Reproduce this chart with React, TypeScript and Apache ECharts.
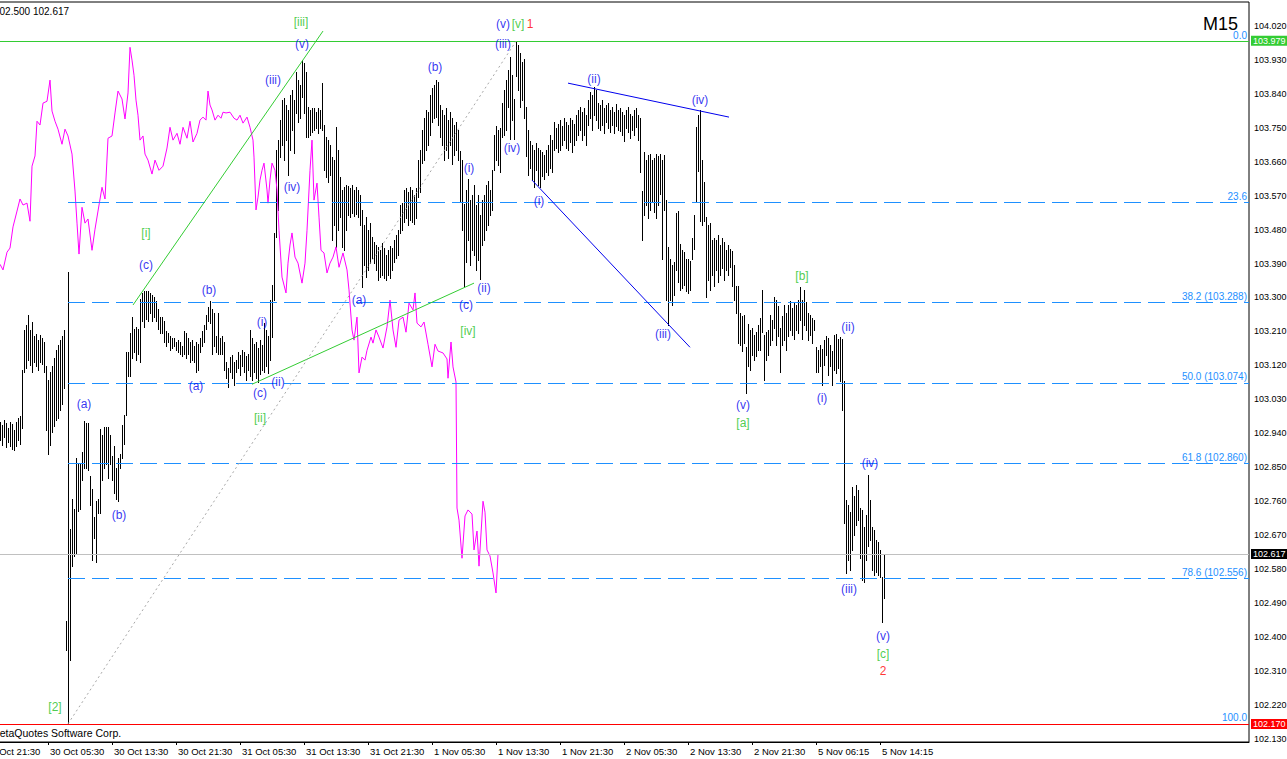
import React, { useEffect, useRef } from "react";
import * as echarts from "echarts";

const FONT = '"Liberation Sans", Arial, sans-serif';

// time index of the first visible M15 bar (index 0 = 29 Oct 21:30)
const firstBar = 8;

const barHigh = [
  102.970, 102.962, 102.975, 102.967, 102.954, 102.970, 102.964, 102.948, 102.970, 102.980, 102.986, 103.108,
  103.213, 103.227, 103.253, 103.213, 103.234, 103.197, 103.203, 103.187, 103.200, 103.192, 103.181, 103.118,
  103.081, 103.102, 103.118, 103.139, 103.160, 103.174, 103.187, 103.197, 103.213, 102.443, 103.367, 102.686,
  102.766, 102.739, 102.874, 102.858, 102.858, 102.890, 102.972, 102.967, 102.967, 102.827, 102.792, 102.718,
  102.760, 102.766, 102.951, 102.935, 102.956, 102.956, 102.956, 102.935, 102.879, 102.906, 102.848, 102.874,
  102.885, 102.962, 102.988, 103.155, 103.155, 103.205, 103.248, 103.216, 103.221, 103.216, 103.296, 103.312,
  103.317, 103.317, 103.317, 103.312, 103.306, 103.301, 103.290, 103.269, 103.248, 103.248, 103.237, 103.211,
  103.205, 103.198, 103.192, 103.192, 103.182, 103.187, 103.182, 103.171, 103.211, 103.205, 103.192, 103.182,
  103.187, 103.171, 103.182, 103.176, 103.192, 103.211, 103.227, 103.253, 103.275, 103.290, 103.269, 103.259,
  103.198, 103.259, 103.192, 103.198, 103.182, 103.128, 103.113, 103.142, 103.147, 103.128, 103.134, 103.155,
  103.147, 103.160, 103.155, 103.145, 103.150, 103.213, 103.192, 103.176, 103.182, 103.166, 103.187, 103.174,
  103.232, 103.213, 103.198, 103.293, 103.333, 103.471, 103.691, 103.717, 103.770, 103.823, 103.828, 103.810,
  103.797, 103.836, 103.850, 103.823, 103.897, 103.876, 103.863, 103.929, 103.921, 103.897, 103.804, 103.797,
  103.802, 103.802, 103.791, 103.802, 103.797, 103.868, 103.757, 103.725, 103.717, 103.704, 103.672, 103.664,
  103.751, 103.691, 103.619, 103.585, 103.592, 103.598, 103.595, 103.590, 103.598, 103.585, 103.592, 103.585,
  103.571, 103.532, 103.492, 103.513, 103.479, 103.497, 103.460, 103.447, 103.439, 103.433, 103.425, 103.444,
  103.431, 103.412, 103.425, 103.436, 103.431, 103.452, 103.465, 103.479, 103.545, 103.550, 103.585, 103.590,
  103.579, 103.592, 103.585, 103.571, 103.590, 103.664, 103.691, 103.744, 103.775, 103.797, 103.791, 103.836,
  103.855, 103.863, 103.876, 103.871, 103.810, 103.797, 103.783, 103.802, 103.770, 103.791, 103.775, 103.757,
  103.765, 103.744, 103.688, 103.664, 103.547, 103.585, 103.614, 103.558, 103.571, 103.598, 103.545, 103.571,
  103.518, 103.558, 103.571, 103.598, 103.608, 103.585, 103.638, 103.730, 103.754, 103.744, 103.749, 103.815,
  103.850, 103.876, 103.903, 103.937, 103.889, 103.826, 103.979, 103.969, 103.948, 103.924, 103.932, 103.804,
  103.744, 103.714, 103.704, 103.691, 103.709, 103.696, 103.691, 103.685, 103.677, 103.691, 103.704, 103.730,
  103.717, 103.765, 103.749, 103.759, 103.770, 103.754, 103.775, 103.765, 103.757, 103.775, 103.770, 103.759,
  103.783, 103.797, 103.804, 103.791, 103.802, 103.783, 103.823, 103.844, 103.836, 103.857, 103.850, 103.815,
  103.810, 103.823, 103.802, 103.810, 103.815, 103.797, 103.804, 103.791, 103.812, 103.797, 103.802, 103.791,
  103.783, 103.797, 103.804, 103.786, 103.781, 103.797, 103.802, 103.783, 103.775, 103.582, 103.685, 103.664,
  103.677, 103.680, 103.664, 103.669, 103.680, 103.675, 103.680, 103.664, 103.677, 103.558, 103.433, 103.402,
  103.386, 103.394, 103.524, 103.529, 103.441, 103.425, 103.420, 103.402, 103.402, 103.396, 103.457, 103.518,
  103.751, 103.783, 103.797, 103.664, 103.606, 103.513, 103.492, 103.497, 103.452, 103.457, 103.452, 103.465,
  103.439, 103.457, 103.447, 103.425, 103.439, 103.428, 103.423, 103.386, 103.330, 103.330, 103.259, 103.251,
  103.253, 103.168, 103.229, 103.213, 103.219, 103.200, 103.208, 103.227, 103.245, 103.320, 103.200, 103.208,
  103.213, 103.253, 103.240, 103.301, 103.293, 103.277, 103.219, 103.251, 103.280, 103.259, 103.280, 103.290,
  103.272, 103.288, 103.280, 103.293, 103.327, 103.293, 103.320, 103.288, 103.259, 103.253, 103.245, 103.240,
  103.168, 103.160, 103.174, 103.163, 103.187, 103.198, 103.192, 103.174, 103.158, 103.200, 103.203, 103.190,
  103.195, 103.190, 103.078, 102.763, 102.750, 102.731, 102.798, 102.774, 102.803, 102.790, 102.742, 102.737,
  102.692, 102.723, 102.829, 102.763, 102.692, 102.684, 102.657, 102.652, 102.631, 102.559, 102.620,
];

const barLow = [
  102.922, 102.909, 102.930, 102.903, 102.917, 102.906, 102.898, 102.895, 102.906, 102.922, 102.911, 102.954,
  103.102, 103.113, 103.134, 103.121, 103.102, 103.128, 103.118, 103.108, 103.128, 103.123, 103.102, 102.948,
  102.885, 102.909, 102.943, 102.959, 102.975, 102.980, 103.002, 103.017, 103.060, 102.366, 102.170, 102.339,
  102.588, 102.615, 102.620, 102.734, 102.739, 102.816, 102.848, 102.848, 102.843, 102.750, 102.604, 102.662,
  102.599, 102.729, 102.729, 102.816, 102.848, 102.858, 102.821, 102.858, 102.816, 102.781, 102.766, 102.760,
  102.848, 102.874, 102.911, 102.988, 103.092, 103.092, 103.139, 103.155, 103.134, 103.150, 103.128, 103.237,
  103.221, 103.243, 103.237, 103.259, 103.237, 103.248, 103.237, 103.216, 103.205, 103.205, 103.182, 103.171,
  103.182, 103.160, 103.166, 103.171, 103.160, 103.155, 103.150, 103.145, 103.150, 103.139, 103.150, 103.128,
  103.134, 103.128, 103.102, 103.108, 103.155, 103.171, 103.182, 103.216, 103.237, 103.232, 103.150, 103.171,
  103.155, 103.150, 103.150, 103.150, 103.108, 103.086, 103.062, 103.102, 103.086, 103.068, 103.102, 103.113,
  103.094, 103.118, 103.102, 103.081, 103.108, 103.092, 103.081, 103.102, 103.086, 103.076, 103.097, 103.108,
  103.102, 103.118, 103.100, 103.134, 103.195, 103.293, 103.460, 103.532, 103.672, 103.704, 103.664, 103.717,
  103.624, 103.691, 103.744, 103.683, 103.789, 103.765, 103.775, 103.831, 103.789, 103.725, 103.725, 103.730,
  103.738, 103.744, 103.749, 103.736, 103.749, 103.744, 103.638, 103.619, 103.606, 103.624, 103.452, 103.492,
  103.433, 103.479, 103.513, 103.433, 103.425, 103.479, 103.518, 103.513, 103.524, 103.516, 103.521, 103.513,
  103.492, 103.327, 103.386, 103.354, 103.373, 103.391, 103.404, 103.391, 103.373, 103.346, 103.354, 103.359,
  103.351, 103.346, 103.359, 103.351, 103.373, 103.394, 103.404, 103.412, 103.471, 103.479, 103.500, 103.510,
  103.492, 103.505, 103.500, 103.494, 103.510, 103.566, 103.579, 103.656, 103.664, 103.691, 103.704, 103.730,
  103.765, 103.775, 103.778, 103.757, 103.725, 103.704, 103.664, 103.691, 103.669, 103.704, 103.653, 103.677,
  103.691, 103.664, 103.553, 103.479, 103.330, 103.394, 103.452, 103.386, 103.425, 103.412, 103.373, 103.399,
  103.349, 103.439, 103.452, 103.479, 103.492, 103.518, 103.532, 103.638, 103.664, 103.651, 103.632, 103.725,
  103.730, 103.744, 103.804, 103.720, 103.770, 103.720, 103.887, 103.850, 103.804, 103.823, 103.775, 103.675,
  103.624, 103.643, 103.611, 103.592, 103.638, 103.598, 103.592, 103.622, 103.614, 103.632, 103.624, 103.643,
  103.632, 103.691, 103.696, 103.685, 103.691, 103.704, 103.717, 103.696, 103.691, 103.712, 103.685, 103.704,
  103.717, 103.730, 103.744, 103.717, 103.730, 103.704, 103.757, 103.775, 103.744, 103.783, 103.770, 103.749,
  103.744, 103.757, 103.736, 103.765, 103.749, 103.738, 103.757, 103.736, 103.754, 103.744, 103.741, 103.730,
  103.714, 103.749, 103.738, 103.722, 103.744, 103.730, 103.751, 103.717, 103.632, 103.452, 103.518, 103.545,
  103.510, 103.532, 103.553, 103.526, 103.510, 103.545, 103.574, 103.402, 103.532, 103.293, 103.227, 103.293,
  103.280, 103.306, 103.373, 103.341, 103.319, 103.325, 103.333, 103.317, 103.311, 103.319, 103.402, 103.428,
  103.553, 103.635, 103.502, 103.492, 103.502, 103.301, 103.346, 103.319, 103.359, 103.330, 103.373, 103.341,
  103.359, 103.378, 103.346, 103.373, 103.359, 103.380, 103.330, 103.293, 103.259, 103.179, 103.174, 103.158,
  103.179, 103.047, 103.118, 103.108, 103.147, 103.134, 103.145, 103.160, 103.160, 103.208, 103.081, 103.134,
  103.147, 103.174, 103.187, 103.219, 103.174, 103.198, 103.102, 103.174, 103.187, 103.160, 103.198, 103.213,
  103.200, 103.190, 103.213, 103.205, 103.240, 103.190, 103.227, 103.213, 103.187, 103.200, 103.179, 103.213,
  103.102, 103.102, 103.118, 103.068, 103.121, 103.147, 103.094, 103.118, 103.068, 103.108, 103.100, 103.113,
  103.078, 103.002, 102.702, 102.570, 102.604, 102.578, 102.631, 102.670, 102.697, 102.710, 102.609, 102.551,
  102.546, 102.604, 102.641, 102.657, 102.578, 102.565, 102.572, 102.565, 102.559, 102.440, 102.503,
];

// overlay symbol (magenta), [time index, price]
const magentaLine: [number, number][] = [
  [8, 103.388], [9.5, 103.373], [11.5, 103.420], [13, 103.431], [14.5, 103.487], [16.5, 103.529],
  [18, 103.561], [19.5, 103.545], [21.5, 103.550], [23, 103.502], [24, 103.648], [25.5, 103.675],
  [26.5, 103.767], [28, 103.757], [29.5, 103.815], [31.5, 103.820], [33, 103.876], [34, 103.794],
  [35.5, 103.767], [37, 103.746], [39, 103.706], [40.5, 103.746], [42, 103.728], [44, 103.680],
  [45.5, 103.582], [46.5, 103.497], [47.5, 103.415], [49, 103.539], [50.5, 103.497], [52, 103.508],
  [54, 103.425], [55.5, 103.481], [57, 103.529], [59, 103.592], [60.5, 103.561], [62, 103.722],
  [64, 103.728], [65.5, 103.789], [67, 103.847], [69, 103.826], [70.5, 103.773], [72, 103.842],
  [73, 103.963], [74, 103.929], [75, 103.889], [76, 103.823], [77, 103.783], [78, 103.717],
  [79.5, 103.728], [80.5, 103.680], [82, 103.664], [84, 103.627], [85.5, 103.664], [87.5, 103.637],
  [89.5, 103.648], [91.5, 103.696], [93, 103.751], [94.5, 103.717], [96.5, 103.735], [98, 103.706],
  [99.5, 103.751], [101.5, 103.722], [103, 103.767], [104.5, 103.712], [106.5, 103.735], [108, 103.770],
  [109.5, 103.778], [111, 103.770], [112, 103.847], [113, 103.810], [114, 103.797], [115.5, 103.770],
  [117, 103.783], [118.5, 103.775], [119.5, 103.791], [121, 103.789], [123, 103.791], [125, 103.775],
  [126.5, 103.770], [128, 103.783], [129.5, 103.762], [131.5, 103.778], [133, 103.751], [134.5, 103.717],
  [135, 103.672], [136, 103.532], [137, 103.566], [138, 103.611], [139, 103.637], [140, 103.656],
  [141.5, 103.585], [142, 103.550], [143, 103.611], [144, 103.656], [145.5, 103.637], [146.5, 103.585],
  [147.5, 103.478], [149, 103.354], [150, 103.333], [151, 103.312], [152, 103.391], [153, 103.439],
  [154, 103.471], [155.5, 103.407], [157, 103.391], [159, 103.338], [160.5, 103.391], [161.5, 103.478],
  [163, 103.637], [164, 103.717], [165, 103.558], [166.5, 103.603], [167.5, 103.513], [168.5, 103.425],
  [170, 103.418], [171.5, 103.365], [173, 103.391], [174.5, 103.407], [176, 103.434], [177.5, 103.380],
  [179.5, 103.418], [181.5, 103.373], [182.5, 103.320], [184, 103.214], [185, 103.187], [186.5, 103.248],
  [187.5, 103.100], [189, 103.142], [190.5, 103.134], [191.5, 103.160], [193.5, 103.195], [194.5, 103.179],
  [196, 103.214], [197.5, 103.195], [199.5, 103.166], [201.5, 103.222], [203, 103.293], [204.5, 103.214],
  [206, 103.168], [207.5, 103.240], [209.5, 103.248], [211, 103.208], [212.5, 103.285], [214.5, 103.267],
  [215.5, 103.312], [216.5, 103.232], [218.5, 103.222], [220, 103.235], [222, 103.176], [224, 103.116],
  [225.5, 103.176], [227, 103.158], [229.5, 103.153], [231.5, 103.137], [232, 103.086], [233.5, 103.182],
  [234.5, 103.116], [236, 103.076], [236.5, 102.742], [237.5, 102.710], [239, 102.609], [240.5, 102.721],
  [242, 102.737], [244, 102.726], [245, 102.631], [246.5, 102.681], [247.5, 102.588], [249.5, 102.760],
  [250.5, 102.731], [251.5, 102.631], [253, 102.615], [254.5, 102.570], [256, 102.517], [257, 102.620],
];

const timeTicks = [0, 32, 64, 96, 128, 160, 192, 224, 256, 288, 320, 352, 384, 416, 448];
const timeLabels = [
  "29 Oct 21:30", "30 Oct 05:30", "30 Oct 13:30", "30 Oct 21:30", "31 Oct 05:30",
  "31 Oct 13:30", "31 Oct 21:30", "1 Nov 05:30", "1 Nov 13:30", "1 Nov 21:30",
  "2 Nov 05:30", "2 Nov 13:30", "2 Nov 21:30", "5 Nov 06:15", "5 Nov 14:15",
];
const priceTicks = [
  104.02, 103.93, 103.84, 103.75, 103.66, 103.57, 103.48, 103.39, 103.3, 103.21, 103.12,
  103.03, 102.94, 102.85, 102.76, 102.67, 102.58, 102.49, 102.4, 102.31, 102.22, 102.13,
];

const fibNames = ["0.0", "23.6", "38.2", "50.0", "61.8", "78.6", "100.0"];
const fibPrices = [103.979, 103.552, 103.288, 103.074, 102.86, 102.556, 102.17];
const fibShowPrice = [false, false, true, true, true, true, false];
const fibStart = 42;

const highLine = 103.979;
const lowLine = 102.17;
const bidPrice = 102.617;

// wave labels: [text, time index, price, colour kind]
const waveLabels: [string, number, number, string][] = [
  ["(a)", 50, 103.017, "b"], ["(b)", 67.5, 102.723, "b"], ["(c)", 81, 103.386, "b"],
  ["(a)", 106, 103.065, "b"], ["(b)", 112.5, 103.320, "b"], ["(c)", 138, 103.047, "b"],
  ["(i)", 139, 103.235, "b"], ["(ii)", 147, 103.076, "b"], ["(iii)", 144.5, 103.876, "b"],
  ["(iv)", 154, 103.592, "b"], ["(v)", 159, 103.971, "b"], ["(a)", 187.5, 103.293, "b"],
  ["(b)", 225.5, 103.910, "b"], ["(c)", 241, 103.280, "b"], ["(i)", 242.5, 103.643, "b"],
  ["(ii)", 250, 103.325, "b"], ["(iii)", 259.5, 103.971, "b"], ["(iv)", 264, 103.696, "b"],
  ["(v)", 259.5, 104.024, "b"], ["(i)", 277.5, 103.555, "b"], ["(ii)", 305, 103.879, "b"],
  ["(iii)", 339.5, 103.203, "b"], ["(iv)", 358, 103.823, "b"], ["(v)", 379.5, 103.015, "b"],
  ["(i)", 419, 103.033, "b"], ["(ii)", 432, 103.221, "b"], ["(iii)", 432.5, 102.527, "b"],
  ["(iv)", 443, 102.861, "b"], ["(v)", 449.5, 102.403, "b"],
  ["[iii]", 158.5, 104.030, "g"], ["[i]", 81, 103.471, "g"], ["[ii]", 138, 102.980, "g"],
  ["[iv]", 242, 103.211, "g"], ["[v]", 267, 104.024, "g"], ["[a]", 379.5, 102.967, "g"],
  ["[b]", 409, 103.357, "g"], ["[c]", 449.5, 102.355, "g"], ["[2]", 35.5, 102.215, "g"],
  ["1", 273, 104.024, "r"], ["2", 449.5, 102.310, "r"],
];

// trend lines: [index1, price1, index2, price2, kind]
const trendLines: [number, number, number, number, string][] = [
  [74.5, 103.28, 169.5, 104.006, "g"],
  [134, 103.07, 245, 103.338, "g"],
  [292, 103.868, 372.5, 103.778, "b"],
  [274, 103.611, 353, 103.168, "b"],
  [42, 102.17, 266, 103.979, "d"],
];

const X_MAX = 632.5;
const Y_MIN = 102.122;
const Y_MAX = 104.083;

const COLORS: Record<string, string> = {
  b: "#0000EE",
  g: "#22C022",
  r: "#FF0000",
  d: "#A8A8A8",
};

export default function App() {
  const ref = useRef<HTMLDivElement>(null);

  useEffect(() => {
    if (!ref.current) return;
    const chart = echarts.init(ref.current, null, { renderer: "svg" });

    const bars = barHigh.map((h, i) => [firstBar + i, h, barLow[i]]);

    const tag = (value: number, bg: string) => ({
      show: true,
      position: "end",
      formatter: value.toFixed(3),
      color: "#fff",
      backgroundColor: bg,
      padding: [1, 2, 0, 2],
      fontSize: 9,
      fontFamily: FONT,
      distance: 2,
    });

    const option: any = {
      animation: false,
      textStyle: { fontFamily: FONT },
      grid: {
        left: -16,
        top: 2,
        right: 38,
        bottom: 17,
        show: true,
        borderColor: "#000",
        borderWidth: 1,
        backgroundColor: "#fff",
        containLabel: false,
        outerBoundsMode: "none",
      },
      xAxis: {
        type: "value",
        min: 0,
        max: X_MAX,
        axisLine: { show: true, lineStyle: { color: "#000", width: 1 } },
        axisTick: { show: true, length: 3, customValues: timeTicks, lineStyle: { color: "#000" } },
        axisLabel: {
          show: true,
          customValues: timeTicks,
          showMinLabel: true,
          formatter: (v: number) => {
            const i = timeTicks.indexOf(Math.round(v));
            return i >= 0 ? timeLabels[i] : "";
          },
          align: "left",
          padding: [0, 0, 0, 2],
          margin: 4,
          color: "#000",
          fontSize: 9.5,
          fontFamily: FONT,
        },
        splitLine: { show: false },
      },
      yAxis: {
        type: "value",
        position: "right",
        min: Y_MIN,
        max: Y_MAX,
        axisLine: { show: true, lineStyle: { color: "#000", width: 1 } },
        axisTick: { show: true, length: 3, customValues: priceTicks, lineStyle: { color: "#000" } },
        axisLabel: {
          show: true,
          customValues: priceTicks,
          formatter: (v: number) => v.toFixed(3),
          margin: 5,
          color: "#000",
          fontSize: 9,
          fontFamily: FONT,
        },
        splitLine: { show: false },
      },
      graphic: [
        {
          type: "text",
          x: 1238,
          y: 24,
          z: 100,
          style: {
            text: "M15",
            fill: "#000",
            fontSize: 18,
            fontFamily: FONT,
            textAlign: "right",
            textVerticalAlign: "middle",
          },
        },
        {
          type: "text",
          x: -6,
          y: 11,
          z: 100,
          style: {
            text: "102.500 102.617",
            fill: "#000",
            fontSize: 10,
            fontFamily: FONT,
            textAlign: "left",
            textVerticalAlign: "middle",
          },
        },
        {
          type: "text",
          x: -9,
          y: 733,
          z: 100,
          style: {
            text: "MetaQuotes Software Corp.",
            fill: "#000",
            fontSize: 10.5,
            fontFamily: FONT,
            textAlign: "left",
            textVerticalAlign: "middle",
          },
        },
      ],
      series: [
        {
          name: "fib",
          type: "line",
          data: [],
          z: 1,
          silent: true,
          markLine: {
            silent: true,
            animation: false,
            symbol: ["none", "none"],
            data: fibPrices.map((p, i) => [
              {
                coord: [fibStart, p],
                lineStyle: { color: "#1E90FF", type: [17, 7], width: 1 },
                label: {
                  show: true,
                  position: "insideEndTop",
                  formatter: fibShowPrice[i] ? fibNames[i] + " (" + p.toFixed(3) + ")" : fibNames[i],
                  color: "#1E90FF",
                  fontSize: 10,
                  fontFamily: FONT,
                  distance: [2, 1],
                },
              },
              { coord: [X_MAX, p] },
            ]),
          },
        },
        {
          name: "levels",
          type: "line",
          data: [],
          z: 2,
          silent: true,
          markLine: {
            silent: true,
            animation: false,
            symbol: ["none", "none"],
            data: [
              {
                yAxis: bidPrice,
                lineStyle: { color: "#C0C0C0", type: "solid", width: 1 },
                label: tag(bidPrice, "#000"),
              },
              {
                yAxis: highLine,
                lineStyle: { color: "#33CC33", type: "solid", width: 1 },
                label: tag(highLine, "#33CC33"),
              },
              {
                yAxis: lowLine,
                lineStyle: { color: "#FF0000", type: "solid", width: 1 },
                label: tag(lowLine, "#FF0000"),
              },
            ],
          },
        },
        {
          name: "bars",
          type: "custom",
          z: 3,
          clip: true,
          silent: true,
          data: bars,
          encode: { x: 0, y: [1, 2] },
          renderItem: (params: any, api: any) => {
            const v = api.value(0);
            const top = api.coord([v, api.value(1)]);
            const bot = api.coord([v, api.value(2)]);
            const x = Math.round(top[0]) + 0.5;
            return {
              type: "line",
              shape: { x1: x, y1: Math.round(top[1]), x2: x, y2: Math.round(bot[1]) + 1 },
              style: { stroke: "#000", lineWidth: 1 },
            };
          },
        },
        {
          name: "overlay",
          type: "line",
          z: 4,
          silent: true,
          showSymbol: false,
          symbol: "none",
          data: magentaLine,
          lineStyle: { color: "#FF00FF", width: 1 },
        },
        {
          name: "trend",
          type: "line",
          data: [],
          z: 5,
          silent: true,
          markLine: {
            silent: true,
            animation: false,
            symbol: ["none", "none"],
            label: { show: false },
            data: trendLines.map((t) => [
              {
                coord: [t[0], t[1]],
                lineStyle: {
                  color: t[4] === "g" ? "#33CC33" : COLORS[t[4]],
                  width: 1,
                  type: t[4] === "d" ? [2, 3] : "solid",
                },
              },
              { coord: [t[2], t[3]] },
            ]),
          },
        },
        {
          name: "waves",
          type: "scatter",
          z: 6,
          silent: true,
          symbolSize: 1,
          itemStyle: { color: "rgba(0,0,0,0)" },
          data: waveLabels.map((w) => ({
            value: [w[1], w[2]],
            label: {
              show: true,
              position: "inside",
              formatter: w[0],
              color: COLORS[w[3]],
              fontSize: 12,
              fontFamily: FONT,
            },
          })),
        },
      ],
    };

    chart.setOption(option);
    return () => chart.dispose();
  }, []);

  return (
    <div
      ref={ref}
      style={{ position: "fixed", left: 0, top: 0, width: 1287, height: 759, background: "#fff" }}
    />
  );
}
